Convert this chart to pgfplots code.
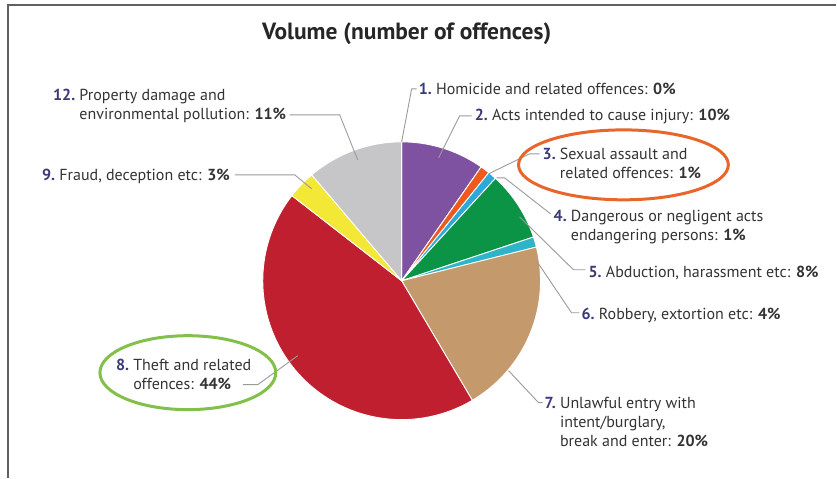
\documentclass[border=0pt]{standalone}
\usepackage{pgfplots}
\pgfplotsset{compat=1.18}
\usepackage{pgfplotstable}
\usepackage{fontspec}
\setmainfont{PT Sans}
\definecolor{cPurple}{HTML}{7E51A1}
\definecolor{cOrange}{HTML}{EE5A1E}
\definecolor{cCyan}{HTML}{2BA9D9}
\definecolor{cGreen}{HTML}{0B9446}
\definecolor{cCyanB}{HTML}{2DB4C8}
\definecolor{cTan}{HTML}{C49A6C}
\definecolor{cRed}{HTML}{C01F2F}
\definecolor{cYellow}{HTML}{F3E836}
\definecolor{cGray}{HTML}{C6C6C8}
\definecolor{numcol}{HTML}{3A3A78}
\definecolor{txtcol}{HTML}{333333}
\definecolor{leader}{HTML}{9A9A9A}
\definecolor{ellO}{HTML}{E8662B}
\definecolor{ellG}{HTML}{82C04A}
\definecolor{frame}{HTML}{606060}

% share of each slice (percent of offences), clockwise from the top
\pgfplotstableread{
pct col
9.7 cPurple
1.1 cOrange
1.0 cCyan
8.1 cGreen
1.2 cCyanB
20.4 cTan
44.0 cRed
3.3 cYellow
11.2 cGray
}\slices

\newcommand\lab[2]{\textcolor{numcol}{\bfseries #1}\ \begin{tabular}[t]{@{}l@{}}#2\end{tabular}}

\begin{document}
\begin{tikzpicture}
\begin{axis}[
  scale only axis, width=837pt, height=478pt,
  xmin=0, xmax=837, ymin=0, ymax=478, y dir=reverse,
  hide axis, clip=false,
]
\pgfplotstablegetrowsof{\slices}
\pgfmathtruncatemacro\N{\pgfplotsretval-1}
\gdef\cum{0}
\pgfplotsforeachungrouped \i in {0,...,\N}{%
  \pgfplotstablegetelem{\i}{pct}\of\slices \let\p\pgfplotsretval
  \pgfplotstablegetelem{\i}{col}\of\slices \let\slicecol\pgfplotsretval
  \pgfmathsetmacro\a{90-3.6*\cum}%
  \pgfmathsetmacro\b{90-3.6*(\cum+\p)}%
  \edef\temp{\noexpand\addplot[fill=\slicecol, draw=white, line width=0.9pt, line join=round, domain=\b:\a, samples=80]
    ({402+139*cos(x)},{281-139*sin(x)}) -- (axis cs:402,281) -- cycle;}%
  \temp
  \pgfmathsetmacro\cum{\cum+\p}%
  \xdef\cum{\cum}%
}

% leader lines
\addplot[draw=leader, line width=0.9pt] coordinates {(417,89) (412,89) (402,142)};
\addplot[draw=leader, line width=0.9pt] coordinates {(472,116) (460,116) (439,158)};
\addplot[draw=leader, line width=0.9pt] coordinates {(540,154) (530,154) (489,174)};
\addplot[draw=leader, line width=0.9pt] coordinates {(497,178) (505,178) (551,214)};
\addplot[draw=leader, line width=0.9pt] coordinates {(520,217) (574,270) (586,270)};
\addplot[draw=leader, line width=0.9pt] coordinates {(537,261) (572,313) (580,313)};
\addplot[draw=leader, line width=0.9pt] coordinates {(509,371) (539,403) (543,403)};
\addplot[draw=leader, line width=0.9pt] coordinates {(298,356) (258,385) (243,385)};
\addplot[draw=leader, line width=0.9pt] coordinates {(235,175) (295,175) (312,189)};
\addplot[draw=leader, line width=0.9pt] coordinates {(290,115) (340,115) (358,160)};

% highlight ellipses
\draw[ellO, line width=3pt] (axis cs:624,165) ellipse [x radius=105, y radius=35];
\draw[ellG, line width=3pt] (axis cs:188,373) ellipse [x radius=88, y radius=37];

% frame
\draw[frame, line width=1.5pt] (axis cs:8,478) -- (axis cs:8,5) -- (axis cs:837,5);

% title
\node[anchor=base, inner sep=0pt, text=black!85, font=\fontsize{23.5}{27}\selectfont\bfseries] at (axis cs:407,40) {Volume (number of offences)};

% labels
\begin{scope}[every node/.style={anchor=base west, inner sep=0pt, text=txtcol, font=\fontsize{16}{19}\selectfont}]
\node at (axis cs:419,95) {\lab{1.}{Homicide and related offences: \textbf{0\%}}};
\node at (axis cs:475,121) {\lab{2.}{Acts intended to cause injury: \textbf{10\%}}};
\node at (axis cs:543,160) {\lab{3.}{Sexual assault and\\related offences: \textbf{1\%}}};
\node at (axis cs:554,222) {\lab{4.}{Dangerous or negligent acts\\endangering persons: \textbf{1\%}}};
\node at (axis cs:589,278) {\lab{5.}{Abduction, harassment etc: \textbf{8\%}}};
\node at (axis cs:582,320) {\lab{6.}{Robbery, extortion etc: \textbf{4\%}}};
\node at (axis cs:545,409) {\lab{7.}{Unlawful entry with\\intent/burglary,\\break and enter: \textbf{20\%}}};
\node at (axis cs:116,371) {\lab{8.}{Theft and related\\offences: \textbf{44\%}}};
\node at (axis cs:42,181) {\lab{9.}{Fraud, deception etc: \textbf{3\%}}};
\node at (axis cs:53,101) {\lab{12.}{Property damage and\\environmental pollution: \textbf{11\%}}};
\end{scope}
\end{axis}
\path (current axis.south west) rectangle (current axis.north east);
\end{tikzpicture}
\end{document}
